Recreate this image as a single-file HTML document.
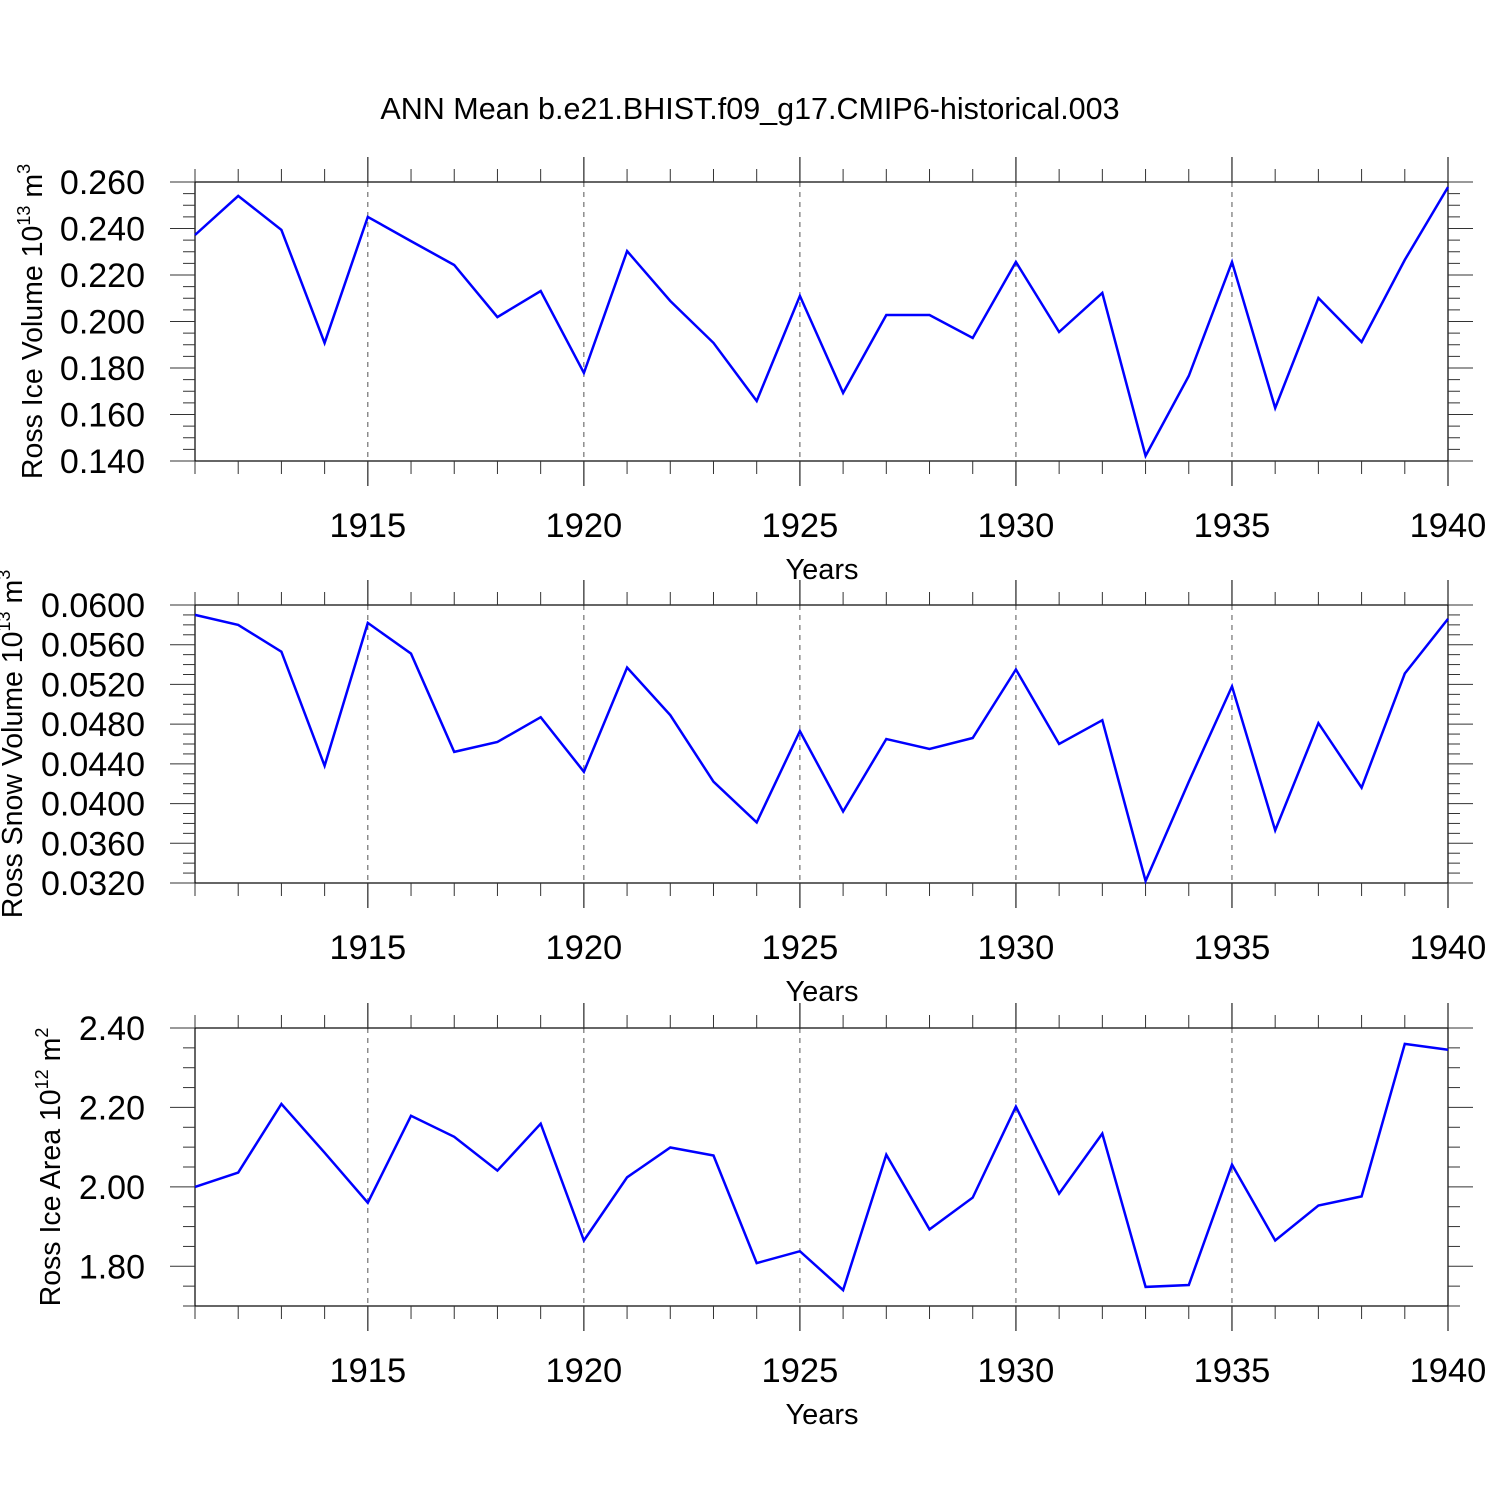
<!DOCTYPE html>
<html><head><meta charset="utf-8"><style>
html,body{margin:0;padding:0;background:#fff;}
svg{display:block;font-family:"Liberation Sans",Arial,sans-serif;}
</style></head><body>
<svg id="chart" width="1500" height="1500" viewBox="0 0 1500 1500" xmlns="http://www.w3.org/2000/svg">
<rect width="1500" height="1500" fill="#fff"/>
<text x="750" y="119" text-anchor="middle" font-size="30.5">ANN Mean b.e21.BHIST.f09_g17.CMIP6-historical.003</text>
</svg>
<script>
const years = [1911,1912,1913,1914,1915,1916,1917,1918,1919,1920,1921,1922,1923,1924,1925,1926,1927,1928,1929,1930,1931,1932,1933,1934,1935,1936,1937,1938,1939,1940];
const iceVolume = [0.2372,0.254,0.2394,0.1908,0.245,0.2346,0.2243,0.2019,0.2131,0.1779,0.2303,0.2088,0.1908,0.1658,0.211,0.1693,0.2028,0.2028,0.1929,0.2256,0.1955,0.2123,0.1422,0.1766,0.2256,0.1628,0.2101,0.1912,0.2265,0.2578];
const snowVolume = [0.0590,0.0580,0.0553,0.0438,0.0582,0.0551,0.0452,0.0462,0.0487,0.0432,0.0537,0.0489,0.0422,0.0381,0.0473,0.0392,0.0465,0.0455,0.0466,0.0535,0.0460,0.0484,0.0322,0.0422,0.0518,0.0373,0.0481,0.0416,0.0531,0.0586];
const iceArea = [2.00,2.036,2.209,2.086,1.960,2.179,2.126,2.041,2.159,1.865,2.024,2.099,2.079,1.808,1.838,1.740,2.081,1.893,1.973,2.202,1.983,2.134,1.748,1.753,2.056,1.865,1.953,1.976,2.360,2.345];
const xTickLabels = ["1915","1920","1925","1930","1935","1940"];
const iceVolTicks = ["0.140","0.160","0.180","0.200","0.220","0.240","0.260"];
const snowVolTicks = ["0.0320","0.0360","0.0400","0.0440","0.0480","0.0520","0.0560","0.0600"];
const iceAreaTicks = ["1.80","2.00","2.20","2.40"];

const svg = document.getElementById('chart');
const NS = 'http://www.w3.org/2000/svg';
function mk(tag, attrs, parent){const e=document.createElementNS(NS,tag);for(const k in attrs)e.setAttribute(k,attrs[k]);(parent||svg).appendChild(e);return e;}

const X0=195, X1=1448, XMIN=1911, XMAX=1940;
function xs(v){return X0+(v-XMIN)/(XMAX-XMIN)*(X1-X0);}

function panel(cfg){
  const g=mk('g',{});
  
  
  const ys=v=>cfg.y1-(v-cfg.vmin)/(cfg.vmax-cfg.vmin)*(cfg.y1-cfg.y0);
  for(let yr=1915;yr<1940;yr+=5){
    const l=mk('line',{x1:xs(yr),x2:xs(yr),y1:cfg.y0,y2:cfg.y1,stroke:'#555','stroke-width':1,'stroke-dasharray':'5,5'},g);
    
    
  }
  const f=mk('rect',{x:X0,y:cfg.y0,width:X1-X0,height:cfg.y1-cfg.y0,fill:'none',stroke:'#000','stroke-width':1.2},g);
  
  
  for(let yr=XMIN;yr<=XMAX;yr++){
    const major=(yr%5===0), len=major?25:13;
    mk('line',{x1:xs(yr),x2:xs(yr),y1:cfg.y0,y2:cfg.y0-len,stroke:'#333','stroke-width':major?1.3:1},g);
    mk('line',{x1:xs(yr),x2:xs(yr),y1:cfg.y1,y2:cfg.y1+len,stroke:'#333','stroke-width':major?1.3:1},g);
  }
  xTickLabels.forEach(s=>{
    const t=mk('text',{x:xs(+s),y:cfg.y1+76,'text-anchor':'middle','font-size':34.5},g);
    t.textContent=s;
    
    
  });
  const xt=mk('text',{x:822,y:cfg.y1+118,'text-anchor':'middle','font-size':29},g);
  xt.textContent='Years';
  
  
  const n=Math.round((cfg.vmax-cfg.vmin)/cfg.minor);
  for(let i=0;i<=n;i++){
    const v=cfg.vmin+i*cfg.minor, y=ys(v);
    const major=cfg.majors.some(m=>Math.abs(m-v)<cfg.minor/10);
    const len=major?25:12;
    mk('line',{x1:X0,x2:X0-len,y1:y,y2:y,stroke:'#333','stroke-width':1},g);
    mk('line',{x1:X1,x2:X1+len,y1:y,y2:y,stroke:'#333','stroke-width':1},g);
  }
  cfg.labels.forEach(s=>{
    const t=mk('text',{x:145,y:ys(+s)+12,'text-anchor':'end','font-size':34},g);
    t.textContent=s;
    
    
  });
  const yt=mk('text',{transform:`translate(${cfg.tx},${(cfg.y0+cfg.y1)/2}) rotate(-90)`,'text-anchor':'middle','font-size':28.5},g);
  
  
  yt.innerHTML=cfg.title;
  const pts=cfg.data.map((v,i)=>xs(years[i]).toFixed(1)+','+ys(v).toFixed(1)).join(' ');
  const pl=mk('polyline',{points:pts,fill:'none',stroke:'#0000ff','stroke-width':2.5,'stroke-linejoin':'miter'},g);
  
  
}
panel({name:'ice-volume-panel',y0:182,y1:461,vmin:0.14,vmax:0.26,minor:0.005,majors:iceVolTicks.map(Number),labels:iceVolTicks,data:iceVolume,tx:42,
  title:'Ross Ice Volume 10<tspan dy="-12" font-size="18">13</tspan><tspan dy="12"> m</tspan><tspan dy="-12" font-size="18">3</tspan>'});
panel({name:'snow-volume-panel',y0:605,y1:883,vmin:0.032,vmax:0.060,minor:0.001,majors:snowVolTicks.map(Number),labels:snowVolTicks,data:snowVolume,tx:22,
  title:'Ross Snow Volume 10<tspan dy="-12" font-size="18">13</tspan><tspan dy="12"> m</tspan><tspan dy="-12" font-size="18">3</tspan>'});
panel({name:'ice-area-panel',y0:1028,y1:1306,vmin:1.70,vmax:2.40,minor:0.05,majors:iceAreaTicks.map(Number),labels:iceAreaTicks,data:iceArea,tx:60,
  title:'Ross Ice Area 10<tspan dy="-12" font-size="18">12</tspan><tspan dy="12"> m</tspan><tspan dy="-12" font-size="18">2</tspan>'});
</script>
</body></html>
